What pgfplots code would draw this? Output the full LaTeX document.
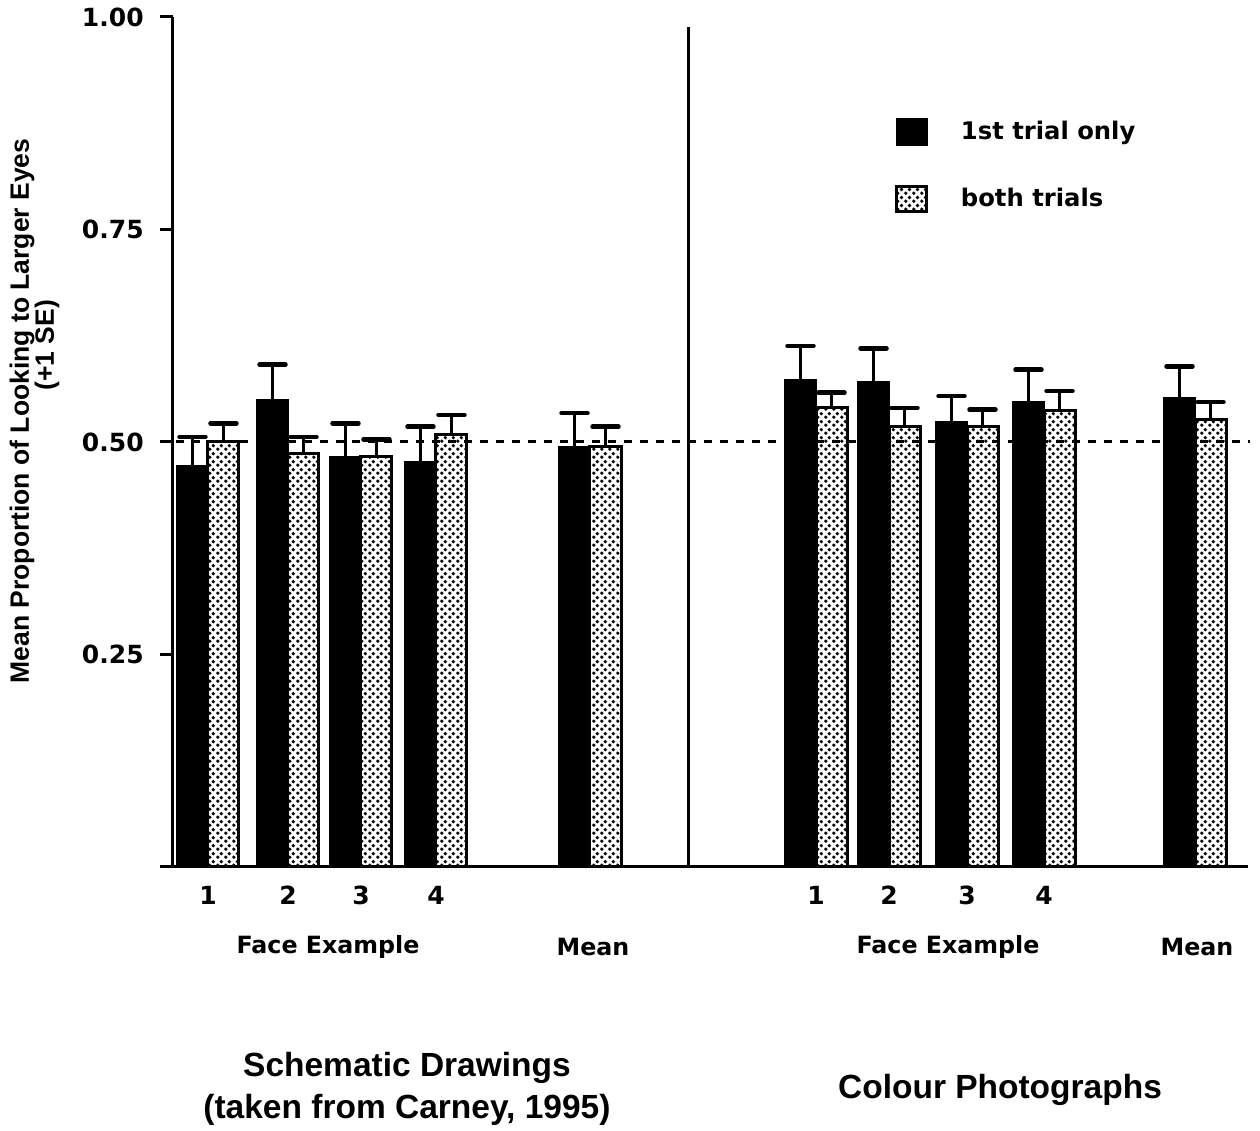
\documentclass[border=0pt]{standalone}
\usepackage{pgfplots}
\pgfplotsset{compat=1.18}
\usepackage{pgfplotstable}
\usepackage{fontspec}
\setmainfont{DejaVu Sans}
\newfontfamily\labfont{Liberation Sans}
\usetikzlibrary{patterns}
\pgfdeclarepatternformonly{bigdots}{\pgfpointorigin}{\pgfpoint{3.2pt}{3.2pt}}{\pgfpoint{3.2pt}{3.2pt}}{%
  \pgfpathcircle{\pgfpoint{0.8pt}{0.8pt}}{0.8pt}%
  \pgfpathcircle{\pgfpoint{2.4pt}{2.4pt}}{0.8pt}%
  \pgfusepath{fill}}

% x = bar centre (group centres 208,288,361,436,590 | 816,889,967,1044,1195)
\pgfplotstableread{
x y e
192.5 0.471 0.035
272.5 0.549 0.042
345.5 0.482 0.040
420.5 0.476 0.042
574.5 0.494 0.040
800.5 0.573 0.040
873.5 0.570 0.040
951.5 0.523 0.031
1028.5 0.547 0.038
1179.5 0.551 0.038
}\firsttrial

\pgfplotstableread{
x y e
223.5 0.500 0.022
303.5 0.487 0.019
376.5 0.483 0.020
451.5 0.509 0.023
605.5 0.495 0.023
831.5 0.541 0.017
904.5 0.518 0.022
982.5 0.518 0.020
1059.5 0.537 0.023
1210.5 0.527 0.020
}\bothtrials

\begin{document}
\begin{tikzpicture}
\path[use as bounding box] (-69.2pt,-105.6pt) rectangle (434.8pt,346.8pt);
\begin{axis}[
  at={(0,0)}, anchor=south west,
  scale only axis, width=430pt, height=340pt,
  xmin=173, xmax=1248, ymin=0, ymax=1,
  axis lines*=left,
  axis line style={line width=1.2pt},
  clip=false,
  ytick={0,0.25,0.5,0.75,1},
  yticklabels={,0.25,0.50,0.75,1.00},
  ytick style={line width=1.2pt, black},
  tick align=outside,
  major tick length=5.2pt,
  xtick={208,288,361,436,816,889,967,1044},
  xticklabels={1,2,3,4,1,2,3,4},
  x tick style={draw=none},
  tick label style={font=\fontsize{10}{12}\selectfont\bfseries},
  yticklabel style={xshift=-3pt},
  xticklabel style={yshift=1pt},
  bar width=31,
  legend style={draw=none, fill=none, at={(0.6716,0.884)}, anchor=north west,
    font=\fontsize{9.7}{12}\selectfont\bfseries, row sep=14pt, inner sep=0pt},
  legend cell align=left,
  legend image code/.code={\draw[#1] (0pt,-5pt) rectangle (12pt,5pt); \path (23pt,0pt);},
  error bars/error mark options={rotate=90, line width=1.8pt, mark size=5.2pt, black, line cap=round},
  error bars/error bar style={line width=1.5pt, solid, black},
]
\addplot[ybar, bar shift=0, fill=black, draw=black, line width=1pt,
  error bars/.cd, y dir=plus, y explicit]
  table[x=x, y=y, y error=e]{\firsttrial};
\addlegendentry{1st trial only}
\addplot[ybar, bar shift=0, pattern=bigdots, draw=black, line width=1.2pt,
  error bars/.cd, y dir=plus, y explicit]
  table[x=x, y=y, y error=e]{\bothtrials};
\addlegendentry{both trials}
\addplot[black, line width=1.2pt, dash pattern=on 3.2pt off 3.2pt, forget plot]
  coordinates {(160,0.5) (1250,0.5)};
\addplot[black, line width=1.2pt, forget plot]
  coordinates {(688,0) (688,0.988)};
\node[rotate=90, font=\labfont\bfseries\fontsize{10.6}{12}\selectfont] at (axis cs:22,0.5365) {Mean Proportion of Looking to Larger Eyes};
\node[rotate=90, font=\labfont\bfseries\fontsize{10.6}{12}\selectfont] at (axis cs:47,0.614) {(+1 SE)};
\node[font=\fontsize{9.5}{12}\selectfont\bfseries] at (axis cs:328,-0.094) {Face Example};
\node[font=\fontsize{9.5}{12}\selectfont\bfseries] at (axis cs:593,-0.094) {Mean};
\node[font=\fontsize{9.5}{12}\selectfont\bfseries] at (axis cs:948,-0.094) {Face Example};
\node[font=\fontsize{9.5}{12}\selectfont\bfseries] at (axis cs:1197,-0.094) {Mean};
\node[font=\labfont\bfseries\fontsize{13.4}{16}\selectfont] at (axis cs:407,-0.2365) {Schematic Drawings};
\node[font=\labfont\bfseries\fontsize{13.4}{16}\selectfont] at (axis cs:407,-0.286) {(taken from Carney, 1995)};
\node[font=\labfont\bfseries\fontsize{13.4}{16}\selectfont] at (axis cs:1000,-0.262) {Colour Photographs};
\end{axis}
\end{tikzpicture}
\end{document}
